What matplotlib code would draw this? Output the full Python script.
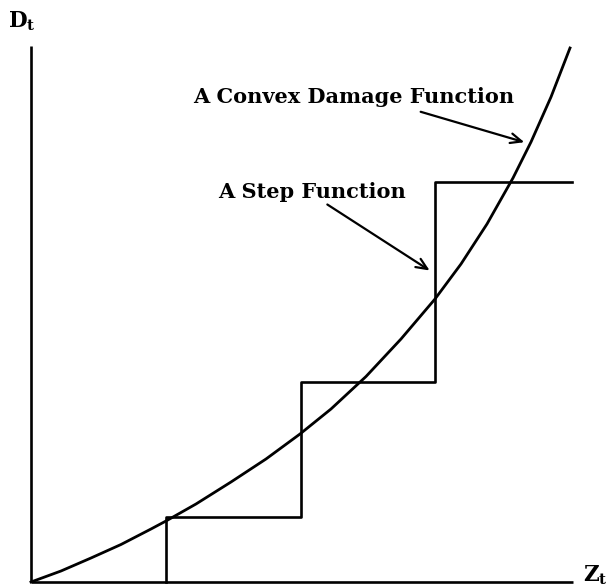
import matplotlib
matplotlib.use("Agg")
import matplotlib.pyplot as plt

# damage curve (arbitrary units, origin at axes corner)
curve_x = [0, 30, 60, 90, 120, 135, 165, 200, 235, 269, 300, 335, 370,
           404, 430, 456, 482, 500, 520, 539]
curve_y = [0, 11, 24, 37.5, 53, 61, 78, 100, 123, 148, 173, 205.5, 243,
           283, 318, 358, 404, 440, 485, 534]

# step function: jump positions and levels
step_x = [135, 135, 270, 404, 541]
step_y = [0, 65, 200, 400, 400]

plt.rcParams['mathtext.fontset'] = 'dejavuserif'

fig = plt.figure(figsize=(6.12, 5.88), dpi=100)
ax = fig.add_axes([0, 0, 1, 1])
ax.set_xlim(-31, 581)
ax.set_ylim(-6, 582)
ax.axis('off')

# axes
ax.plot([0, 0], [0, 536], color='black', lw=1.9, solid_capstyle='butt')
ax.plot([0, 542], [0, 0], color='black', lw=1.9, solid_capstyle='butt')

ax.plot(curve_x, curve_y, color='black', lw=2.0, solid_joinstyle='round')
ax.plot(step_x, step_y, color='black', lw=1.9, drawstyle='steps-post')

font = dict(family='DejaVu Serif', weight='bold', size=15)
ax.text(-9, 561, r'$\mathbf{D_t}$', ha='center', va='center', fontsize=15.5)
ax.text(564, 7, r'$\mathbf{Z_t}$', ha='center', va='center', fontsize=15.5)

ax.text(162, 485, 'A Convex Damage Function', ha='left', va='center', **font)
ax.text(187, 390, 'A Step Function', ha='left', va='center', **font)

arrow = dict(arrowstyle='->,head_length=0.8,head_width=0.35', color='black', lw=1.6)
ax.annotate('', xy=(496, 439), xytext=(387, 471), arrowprops=arrow)
ax.annotate('', xy=(401, 310), xytext=(294, 379), arrowprops=arrow)

fig.savefig('out.png', dpi=100)
